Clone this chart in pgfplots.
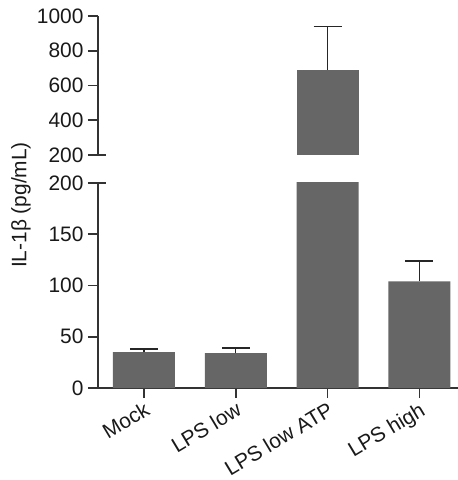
\documentclass[border=0pt]{standalone}
\usepackage{fontspec}
\setmainfont{Liberation Sans}
\usepackage{pgfplots}
\pgfplotsset{compat=1.18}

\definecolor{barfill}{HTML}{666666}
\definecolor{axisgray}{HTML}{333333}

\pgfplotsset{
  brk/.style={
    scale only axis,
    width=360bp,
    xmin=-0.5, xmax=3.42,
    axis line style={-, line width=1.8bp, color=axisgray},
    tick style={line width=1.8bp, color=axisgray},
    major tick length=10bp,
    tick align=outside,
    tick label style={font=\fontsize{21}{25}\selectfont, text=black!90},
    yticklabel style={xshift=-1bp},
    /pgf/number format/assume math mode=true,
    /pgf/number format/1000 sep={},
  },
  il/.style={
    ybar, bar width=62bp, fill=barfill, draw=none,
    error bars/.cd, y dir=plus, y explicit,
    error bar style={line width=1.4bp, color=black!85},
    error mark options={rotate=90, line width=1.4bp, color=black!85, mark size=14bp},
  },
}

\begin{document}
\begin{tikzpicture}
\useasboundingbox (-98bp,-92bp) rectangle (360bp,388bp);
% lower part 0-200
\begin{axis}[brk, at={(0,0)}, height=205bp,
  ymin=0, ymax=200, ytick={0,50,100,150,200},
  axis x line*=bottom, axis y line*=left,
  xtick={0,1,2,3},
  xticklabels={Mock, LPS low, LPS low ATP, LPS high},
  xticklabel style={rotate=31, anchor=north east, inner sep=2bp},
]
\addplot[il] coordinates {
  (0,35) +- (0,3)
  (1,34) +- (0,5)
  (2,690) +- (0,250)
  (3,104) +- (0,20)
};
\end{axis}
\draw[line width=1.8bp, axisgray] (-0.9bp,205bp) -- (8bp,205bp);
% upper part 200-1000
\begin{axis}[brk, at={(0,233bp)}, height=139bp,
  ymin=200, ymax=1000, ytick={200,400,600,800,1000},
  axis x line=none, axis y line*=left,
]
\addplot[il] coordinates {
  (2,690) +- (0,250)
};
\end{axis}
\draw[line width=1.8bp, axisgray] (-0.9bp,233bp) -- (8bp,233bp);
\node[rotate=90, inner sep=0pt, font=\fontsize{21}{25}\selectfont, text=black!90] at (-77bp,183bp) {IL-1β (pg/mL)};
\end{tikzpicture}
\end{document}
